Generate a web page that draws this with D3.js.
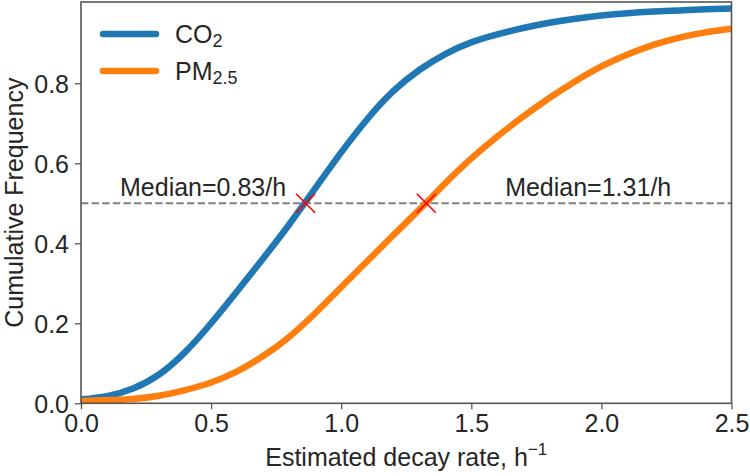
<!DOCTYPE html>
<html>
<head>
<meta charset="utf-8">
<script src="https://cdn.jsdelivr.net/npm/d3@7"></script>
<style>
  html, body { margin: 0; padding: 0; background: #fff; }
  svg { display: block; }
  text { font-family: "Liberation Sans", Arial, Helvetica, sans-serif; fill: #262626; }
</style>
</head>
<body>
<svg id="chart" width="750" height="476"></svg>
<script>
// ---- data ----
const rates = [0.0, 0.1, 0.2, 0.3, 0.4, 0.5, 0.6, 0.7, 0.8, 0.9, 1.0, 1.1, 1.2, 1.3, 1.4, 1.5, 1.6, 1.7, 1.8, 1.9, 2.0, 2.1, 2.2, 2.3, 2.4, 2.5];
const co2Cdf  = [0.010, 0.018, 0.037, 0.072, 0.128, 0.200, 0.280, 0.362, 0.447, 0.537, 0.627, 0.710, 0.780, 0.833, 0.873, 0.902, 0.922, 0.938, 0.951, 0.961, 0.969, 0.975, 0.979, 0.982, 0.985, 0.987];
const pm25Cdf = [0.006, 0.008, 0.011, 0.019, 0.033, 0.052, 0.080, 0.118, 0.166, 0.225, 0.290, 0.355, 0.420, 0.484, 0.550, 0.612, 0.667, 0.717, 0.763, 0.805, 0.842, 0.872, 0.896, 0.914, 0.927, 0.936];
const medianMarks = [ {x: 0.863, y: 0.5}, {x: 1.327, y: 0.5} ];
const medianLabels = [ {x: 0.15, y: 0.518, text: "Median=0.83/h"}, {x: 1.63, y: 0.518, text: "Median=1.31/h"} ];
const xTicks = [0.0, 0.5, 1.0, 1.5, 2.0, 2.5];
const yTicks = [0.0, 0.2, 0.4, 0.6, 0.8];
const seriesNames = ["CO", "PM"];
const seriesSubs = ["2", "2.5"];
const seriesColors = ["#1f77b4", "#ff7f0e"];

// ---- layout ----
const svg = d3.select("#chart");
const pLeft = 81, pRight = 731.5, pTop = 2, pBottom = 403.3;
const x = d3.scaleLinear().domain([0, 2.5]).range([pLeft, pRight]);
const y = d3.scaleLinear().domain([0, 1.003]).range([pBottom, pTop]);
const axisColor = "#555";
const fontSize = 25;

// median dashed line
svg.append("line")
  .attr("x1", x(0)).attr("x2", x(2.5))
  .attr("y1", y(0.5)).attr("y2", y(0.5))
  .attr("stroke", "#808080").attr("stroke-width", 2)
  .attr("stroke-dasharray", "7.4,3.2");

// curves
const line = d3.line().x(d => x(d[0])).y(d => y(d[1])).curve(d3.curveNatural);
const seriesData = [co2Cdf, pm25Cdf];
seriesData.forEach((vals, i) => {
  svg.append("path")
    .datum(rates.map((r, j) => [r, vals[j]]))
    .attr("d", line)
    .attr("fill", "none")
    .attr("stroke", seriesColors[i])
    .attr("stroke-width", 6.5)
    .attr("stroke-linecap", "butt");
});

// red x markers
const ms = 9.5;
medianMarks.forEach(m => {
  const cx = x(m.x), cy = y(m.y);
  svg.append("path")
    .attr("d", `M${cx-ms},${cy-ms}L${cx+ms},${cy+ms}M${cx-ms},${cy+ms}L${cx+ms},${cy-ms}`)
    .attr("stroke", "#ff0000").attr("stroke-width", 1.6).attr("fill", "none");
});

// median labels
medianLabels.forEach(l => {
  svg.append("text")
    .attr("x", x(l.x)).attr("y", y(l.y))
    .attr("font-size", fontSize)
    .text(l.text);
});

// axes
const xAxis = d3.axisBottom(x).tickValues(xTicks).tickFormat(d3.format(".1f")).tickSizeOuter(0).tickSize(6).tickPadding(5);
const yAxis = d3.axisLeft(y).tickValues(yTicks).tickFormat(d3.format(".1f")).tickSizeOuter(0).tickSize(6).tickPadding(6);

const gx = svg.append("g").attr("transform", `translate(0,${pBottom})`).call(xAxis);
const gy = svg.append("g").attr("transform", `translate(${pLeft},0)`).call(yAxis);
[gx, gy].forEach(g => {
  g.select(".domain").remove();
  g.selectAll(".tick line").attr("stroke", axisColor).attr("stroke-width", 1.3);
  g.selectAll(".tick text").attr("font-size", fontSize).attr("fill", "#262626")
    .style("font-family", '"Liberation Sans", Arial, sans-serif');
});
gy.selectAll(".tick text").attr("dy", "0.36em");

// frame
svg.append("rect")
  .attr("x", pLeft).attr("y", pTop)
  .attr("width", pRight - pLeft).attr("height", pBottom - pTop)
  .attr("fill", "none").attr("stroke", axisColor).attr("stroke-width", 1.6);

// axis titles
const xt = svg.append("text")
  .attr("x", (pLeft + pRight) / 2).attr("y", 466)
  .attr("text-anchor", "middle").attr("font-size", fontSize);
xt.append("tspan").text("Estimated decay rate, h");
xt.append("tspan").attr("font-size", 17).attr("dy", -11).text("\u22121");

svg.append("text")
  .attr("transform", `translate(23,${(pTop + pBottom) / 2}) rotate(-90)`)
  .attr("text-anchor", "middle").attr("font-size", fontSize)
  .text("Cumulative Frequency");

// legend
const legY = [34, 71];
seriesNames.forEach((n, i) => {
  svg.append("line")
    .attr("x1", 103).attr("x2", 156)
    .attr("y1", legY[i]).attr("y2", legY[i])
    .attr("stroke", seriesColors[i]).attr("stroke-width", 6.5).attr("stroke-linecap", "round");
  const t = svg.append("text").attr("x", 175).attr("y", legY[i] + 9).attr("font-size", fontSize);
  t.append("tspan").text(n);
  t.append("tspan").attr("font-size", 18).attr("dy", 4).text(seriesSubs[i]);
});
</script>
</body>
</html>
